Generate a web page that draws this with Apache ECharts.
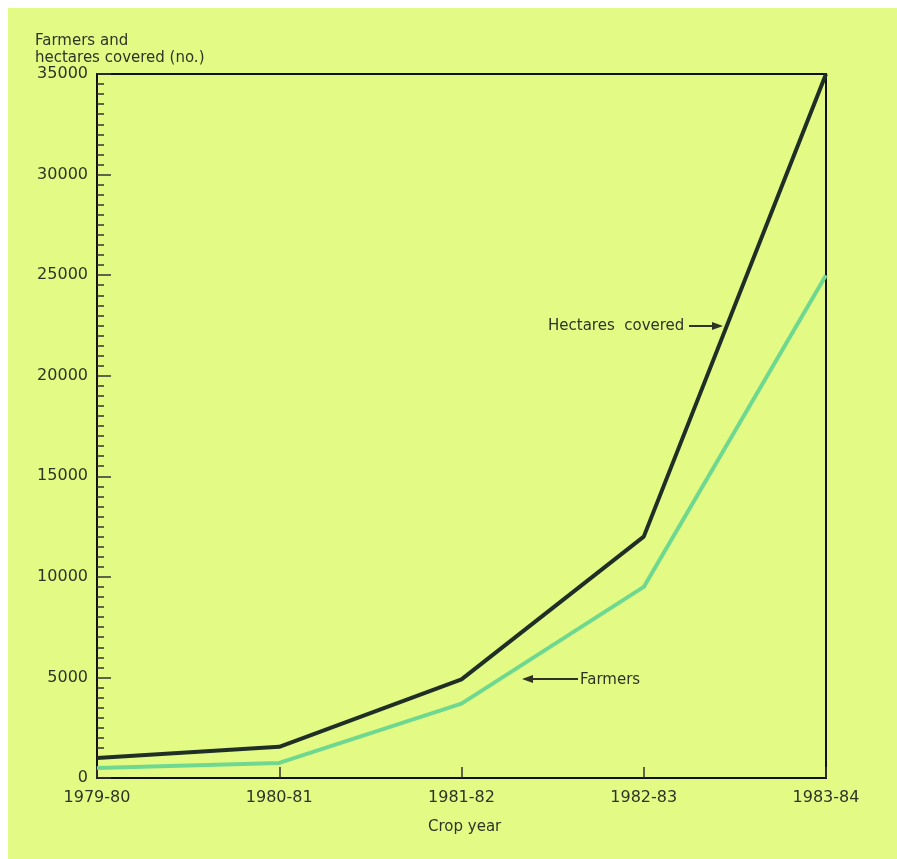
<!DOCTYPE html>
<html>
<head>
<meta charset="utf-8">
<script src="https://cdn.jsdelivr.net/npm/echarts@6/dist/echarts.min.js"></script>
<style>
html,body{margin:0;padding:0;background:#ffffff;}
#chart{width:897px;height:859px;}
</style>
</head>
<body>
<div id="chart"></div>
<script>
const categories = ['1979-80', '1980-81', '1981-82', '1982-83', '1983-84'];
const hectaresCovered = [1000, 1550, 4900, 12000, 35000];
const farmers = [500, 750, 3700, 9500, 25000];
const yTicks = [0, 5000, 10000, 15000, 20000, 25000, 30000, 35000];

const textColor = '#2f3326';
const fontFamily = 'DejaVu Sans';
const chart = echarts.init(document.getElementById('chart'));
chart.setOption({
  animation: false,
  backgroundColor: '#ffffff',
  grid: { left: 97, right: 71, top: 74, bottom: 81, show: true, borderColor: '#111', borderWidth: 2, backgroundColor: 'transparent' },
  graphic: [
    { type: 'rect', z: -10, silent: true, shape: { x: 8, y: 8, width: 889, height: 851 }, style: { fill: '#e3fb84' } },
    { type: 'text', left: 35, top: 33, style: { text: 'Farmers and\nhectares covered (no.)', fill: textColor, font: '15px "DejaVu Sans"', lineHeight: 17 } },
    { type: 'text', left: 548, top: 319, style: { text: 'Hectares  covered', fill: textColor, font: '15px "DejaVu Sans"' } },
    { type: 'line', shape: { x1: 689, y1: 326, x2: 716, y2: 326 }, style: { stroke: textColor, lineWidth: 2 } },
    { type: 'polygon', shape: { points: [[723, 326], [712, 322], [712, 330]] }, style: { fill: textColor } },
    { type: 'text', left: 580, top: 673, style: { text: 'Farmers', fill: textColor, font: '15px "DejaVu Sans"' } },
    { type: 'line', shape: { x1: 530, y1: 679, x2: 578, y2: 679 }, style: { stroke: textColor, lineWidth: 2 } },
    { type: 'polygon', shape: { points: [[522, 679], [533, 675], [533, 683]] }, style: { fill: textColor } },
    { type: 'text', left: 428, top: 820, style: { text: 'Crop year', fill: textColor, font: '15px "DejaVu Sans"' } }
  ],
  xAxis: {
    type: 'category',
    data: categories,
    boundaryGap: false,
    axisLine: { lineStyle: { color: '#111', width: 2 } },
    axisTick: { inside: true, length: 11, lineStyle: { color: '#333', width: 1.5 }, alignWithLabel: true },
    axisLabel: { color: textColor, fontFamily: fontFamily, fontSize: 16, margin: 12, showMinLabel: true, showMaxLabel: true },
    splitLine: { show: false }
  },
  yAxis: {
    type: 'value',
    min: 0,
    max: 35000,
    interval: 5000,
    axisLine: { show: true, lineStyle: { color: '#111', width: 2 } },
    axisTick: { show: true, inside: true, length: 14, lineStyle: { color: '#333', width: 1.5 } },
    minorTick: { show: true, splitNumber: 10, length: 7, lineStyle: { color: '#333', width: 1.5 } },
    axisLabel: { color: textColor, fontFamily: fontFamily, fontSize: 16, margin: 9,
      formatter: function (v) { return yTicks.indexOf(v) >= 0 ? String(v) : ''; } },
    splitLine: { show: false }
  },
  series: [
    { name: 'Farmers', type: 'line', data: farmers, symbol: 'none', lineStyle: { color: '#6fd890', width: 4 }, z: 3 },
    { name: 'Hectares covered', type: 'line', data: hectaresCovered, symbol: 'none', lineStyle: { color: '#1f2f25', width: 4 }, z: 4 }
  ]
});
</script>
</body>
</html>
